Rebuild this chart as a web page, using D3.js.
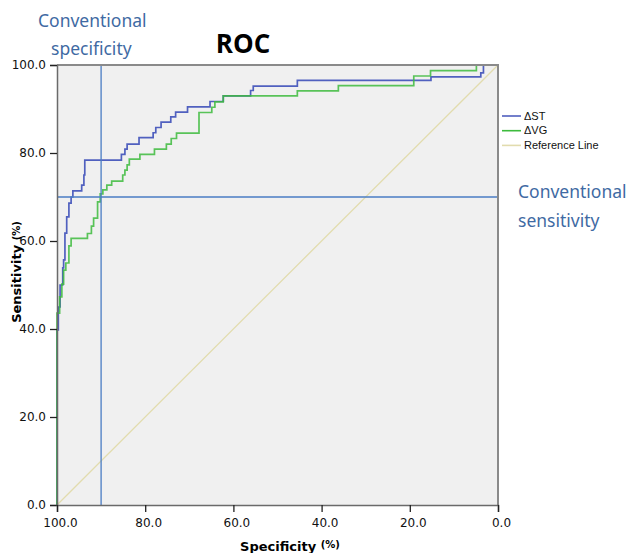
<!DOCTYPE html>
<html>
<head>
<meta charset="utf-8">
<script src="https://cdn.jsdelivr.net/npm/d3@7"></script>
<style>
  body { margin: 0; background: #fff; }
  svg text { font-family: "DejaVu Sans", sans-serif; }
</style>
</head>
<body>
<div id="vis"></div>
<script>
// tick values shared by both axes
const tickValues = [0, 20, 40, 60, 80, 100];

// ΔST curve: (specificity, sensitivity) at the top of each vertical rise
const stSpec = [100, 100, 99.7, 99.3, 98.7, 98.5, 98.2, 97.8, 97.3, 96.8, 96.4, 94.4, 93.9, 93.7,
  85.4, 84.6, 84.1, 81.4, 78.2, 77.6, 76.4, 74.2, 73.1, 70.4, 65.3, 62.3, 56.1, 55.5, 45.5, 15.2, 3.9, 3.3, 0];
const stSens = [0, 39.8, 45.0, 50.0, 53.9, 55.7, 61.8, 65.5, 68.6, 70.0, 71.4, 72.7, 75.0, 78.4,
  79.7, 80.9, 82.0, 83.5, 84.6, 85.8, 87.0, 88.2, 89.3, 90.5, 91.7, 93.0, 94.2, 95.2, 96.5, 97.3, 98.2, 100, 100];

// ΔVG curve
const vgSpec = [100, 100, 99.4, 98.9, 98.5, 98.0, 97.3, 96.8, 93.1, 92.2, 91.7, 90.8, 90.2, 89.6, 88.7,
  87.6, 85.1, 84.6, 84.1, 83.6, 81.2, 77.9, 75.2, 74.1, 72.9, 67.8, 64.9, 64.2, 62.3, 45.5, 36.2, 19.1, 15.3, 4.9, 0];
const vgSens = [0, 43.6, 47.3, 50.2, 53.4, 55.0, 58.9, 60.6, 61.7, 63.4, 65.2, 68.9, 70.7, 71.6, 72.7,
  73.6, 75.0, 76.1, 77.3, 78.6, 79.7, 80.9, 82.0, 83.3, 84.5, 89.2, 90.4, 91.6, 93.0, 94.1, 95.3, 97.5, 98.7, 100, 100];

// conventional cut-offs
const convSpecificity = 90;
const convSensitivity = 70;

const legendLabels = ["\u0394ST", "\u0394VG", "Reference Line"];
const legendColours = ["#5060bf", "#3dbb3d", "#e2dcae"];

const width = 630;
const height = 553;
const plot = { left: 57, right: 498, top: 65, bottom: 505 };

const svg = d3.select("#vis").append("svg")
  .attr("width", width)
  .attr("height", height);

const x = d3.scaleLinear().domain([100, 0]).range([plot.left, plot.right]);
const y = d3.scaleLinear().domain([0, 100]).range([plot.bottom, plot.top]);

// plot background
svg.append("rect")
  .attr("x", plot.left).attr("y", plot.top)
  .attr("width", plot.right - plot.left).attr("height", plot.bottom - plot.top)
  .attr("fill", "#f0f0f0");

// reference diagonal
svg.append("line")
  .attr("x1", x(100)).attr("y1", y(0))
  .attr("x2", x(0)).attr("y2", y(100))
  .attr("stroke", legendColours[2]).attr("stroke-width", 1.3);

const line = d3.line()
  .x((d) => x(d[0]))
  .y((d) => y(d[1]))
  .curve(d3.curveStepAfter);

svg.append("path")
  .datum(d3.zip(stSpec, stSens))
  .attr("d", line)
  .attr("fill", "none")
  .attr("stroke", legendColours[0])
  .attr("stroke-width", 1.7);

svg.append("path")
  .datum(d3.zip(vgSpec, vgSens))
  .attr("d", line)
  .attr("fill", "none")
  .attr("stroke", legendColours[1])
  .attr("stroke-opacity", 0.85)
  .attr("stroke-width", 1.7);

// conventional specificity / sensitivity lines
svg.append("line")
  .attr("x1", x(convSpecificity)).attr("x2", x(convSpecificity))
  .attr("y1", y(100)).attr("y2", y(0))
  .attr("stroke", "#4a7cc4").attr("stroke-width", 1.3);
svg.append("line")
  .attr("x1", x(100)).attr("x2", x(0))
  .attr("y1", y(convSensitivity)).attr("y2", y(convSensitivity))
  .attr("stroke", "#4a7cc4").attr("stroke-width", 1.3);

// frame: top and right border
svg.append("path")
  .attr("d", `M${plot.left},${plot.top}H${plot.right}V${plot.bottom}`)
  .attr("fill", "none")
  .attr("stroke", "#8a8a8a")
  .attr("stroke-width", 2);

// axes
const yAxis = svg.append("g")
  .attr("transform", `translate(${plot.left},0)`)
  .call(d3.axisLeft(y).tickValues(tickValues).tickFormat(d3.format(".1f")).tickSize(7).tickPadding(4));
const xAxis = svg.append("g")
  .attr("transform", `translate(0,${plot.bottom})`)
  .call(d3.axisBottom(x).tickValues(tickValues).tickFormat(d3.format(".1f")).tickSize(7).tickPadding(6));

[yAxis, xAxis].forEach((g) => {
  g.select(".domain").attr("stroke", "#6a6a6a").attr("stroke-width", 1.5);
  g.selectAll(".tick line").attr("stroke", "#222").attr("stroke-width", 1.3);
  g.selectAll(".tick text")
    .attr("fill", "#111")
    .style("font-size", "12px")
    .style("font-family", "'DejaVu Sans', sans-serif");
});
xAxis.selectAll(".tick text").attr("dx", 3);

// axis titles
const xTitle = svg.append("text")
  .attr("x", 290).attr("y", 551)
  .attr("text-anchor", "middle")
  .style("font-weight", "bold")
  .style("font-size", "13px");
xTitle.append("tspan").text("Specificity ");
xTitle.append("tspan").attr("dy", -3).style("font-size", "10px").text("(%)");

const yTitle = svg.append("text")
  .attr("transform", "translate(21,272) rotate(-90)")
  .attr("text-anchor", "middle")
  .style("font-weight", "bold")
  .style("font-size", "13px");
yTitle.append("tspan").text("Sensitivity ");
yTitle.append("tspan").attr("dy", -1).style("font-size", "10px").text("(%)");

// chart title
svg.append("text")
  .attr("x", 243).attr("y", 53)
  .attr("text-anchor", "middle")
  .style("font-family", "'Open Sans', sans-serif")
  .style("font-weight", "bold")
  .style("font-size", "26px")
  .text("ROC");

// conventional annotations
const annot = [
  { x: 38, y: 27, text: "Conventional" },
  { x: 51, y: 55, text: "specificity" },
  { x: 518, y: 198, text: "Conventional" },
  { x: 518, y: 227, text: "sensitivity" },
];
svg.selectAll(".annot")
  .data(annot)
  .enter()
  .append("text")
  .attr("class", "annot")
  .attr("x", (d) => d.x)
  .attr("y", (d) => d.y)
  .attr("fill", "#3f6aa3")
  .style("font-family", "'Noto Sans', sans-serif")
  .style("font-size", "17.5px")
  .text((d) => d.text);

// legend
const legend = svg.selectAll(".legend")
  .data(legendLabels)
  .enter()
  .append("g")
  .attr("class", "legend")
  .attr("transform", (d, i) => `translate(502,${116 + i * 14.7})`);
legend.append("line")
  .attr("x1", 0).attr("x2", 19)
  .attr("stroke", (d, i) => legendColours[i])
  .attr("stroke-width", 1.6);
legend.append("text")
  .attr("x", 22).attr("y", 3.5)
  .style("font-family", "'Liberation Sans', Arial, sans-serif")
  .style("font-size", "11px")
  .attr("fill", "#111")
  .text((d) => d);
</script>
</body>
</html>
